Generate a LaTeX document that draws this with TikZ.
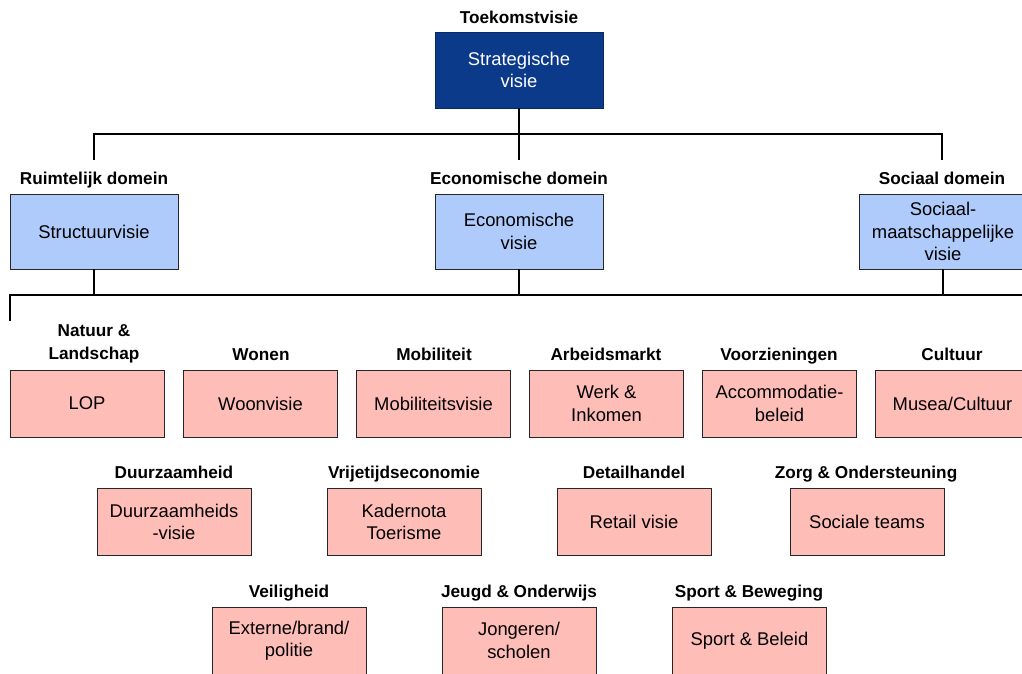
\documentclass[tikz,border=0pt]{standalone}
\usepackage{fontspec}
\setmainfont{Liberation Sans}
\definecolor{darkblue}{HTML}{0C3A8A}
\definecolor{lightblue}{HTML}{AFCBFC}
\definecolor{pinkbox}{HTML}{FFBDB8}
\begin{document}
\begin{tikzpicture}[x=1pt,y=-1pt,
  boxbase/.style={draw=black!85, line width=0.9pt, align=center, inner sep=2pt,
     font=\fontsize{18.4}{22.5}\selectfont},
  topbox/.style={boxbase, fill=darkblue, draw=darkblue!70!black, text=white, minimum width=168pt, minimum height=76pt},
  domainbox/.style={boxbase, fill=lightblue, minimum width=168pt, minimum height=75pt},
  themebox/.style={boxbase, fill=pinkbox, minimum width=154pt, minimum height=67pt},
  hdrbase/.style={font=\bfseries\fontsize{17.2}{23}\selectfont, align=center, inner sep=0pt},
  hdr/.style={hdrbase, text height=12.4pt, text depth=0pt},
  conn/.style={line width=1.3pt, black}]
\useasboundingbox (0,0) rectangle (1022,673);
\clip (0,0) rectangle (1022,673);
% top
\node[hdr] (ltop) at (519,17.5) {Toekomstvisie};
\node[topbox] (top) at (519,70) {Strategische\\visie};
% domains
\node[hdr] (lruim) at (94,178.5) {Ruimtelijk domein};
\node[hdr] (leco) at (519,178.5) {Economische domein};
\node[hdr] (lsoc) at (942,178.5) {Sociaal domein};
\node[domainbox] (ruim) at (94,231.5) {Structuurvisie};
\node[domainbox] (eco) at (519,231.5) {Economische\\visie};
\node[domainbox] (soc) at (943,231.5) {Sociaal-\\maatschappelijke\\visie};
% connectors level 1
\coordinate (bus1) at (519,134);
\coordinate (r1) at (94,160);
\coordinate (e1) at (519,160);
\coordinate (s1) at (942,160);
\draw[conn] (top.south) -- (e1);
\draw[conn] (r1) |- (bus1) -| (s1);
% connectors level 2
\coordinate (b2l) at (10,295);
\coordinate (b2r) at (1024,295);
\coordinate (c1) at (10,321);
\draw[conn] (c1) -- (b2l) -- (b2r);
\draw[conn] (ruim.south) -- (ruim.south |- b2l);
\draw[conn] (eco.south) -- (eco.south |- b2l);
\draw[conn] (soc.south) -- (soc.south |- b2l);
% row 1
\node[hdrbase] (lnat) at (94,344) {Natuur \&\\Landschap};
\node[hdr] (lwon) at (261,354.5) {Wonen};
\node[hdr] (lmob) at (434,354.5) {Mobiliteit};
\node[hdr] (larb) at (606,354.5) {Arbeidsmarkt};
\node[hdr] (lvoo) at (779,354.5) {Voorzieningen};
\node[hdr] (lcul) at (952,354.5) {Cultuur};
\node[themebox] (nat) at (87,403.5) {LOP};
\node[themebox] (won) at (260.5,403.5) {Woonvisie};
\node[themebox] (mob) at (433.5,403.5) {Mobiliteitsvisie};
\node[themebox] (arb) at (606.5,403.5) {Werk \&\\Inkomen};
\node[themebox] (voo) at (779.5,403.5) {Accommodatie-\\beleid};
\node[themebox] (cul) at (952.5,403.5) {Musea/Cultuur};
% row 2
\node[hdr] (lduu) at (174,472.5) {Duurzaamheid};
\node[hdr] (lvri) at (404,472.5) {Vrijetijdseconomie};
\node[hdr] (ldet) at (634,472.5) {Detailhandel};
\node[hdr] (lzor) at (866,472.5) {Zorg \& Ondersteuning};
\node[themebox] (duu) at (174,522) {Duurzaamheids\\-visie};
\node[themebox] (vri) at (404,522) {Kadernota\\Toerisme};
\node[themebox] (det) at (634,522) {Retail visie};
\node[themebox] (zor) at (867,522) {Sociale teams};
% row 3
\node[hdr] (lvei) at (289,591.5) {Veiligheid};
\node[hdr] (ljeu) at (519,591.5) {Jeugd \& Onderwijs};
\node[hdr] (lspo) at (749,591.5) {Sport \& Beweging};
\node[themebox] (vei) at (289,640.5) {Externe/brand/\\politie};
\node[themebox] (jeu) at (519,640.5) {Jongeren/\\scholen};
\node[themebox] (spo) at (749.5,640.5) {Sport \& Beleid};
\end{tikzpicture}
\end{document}
